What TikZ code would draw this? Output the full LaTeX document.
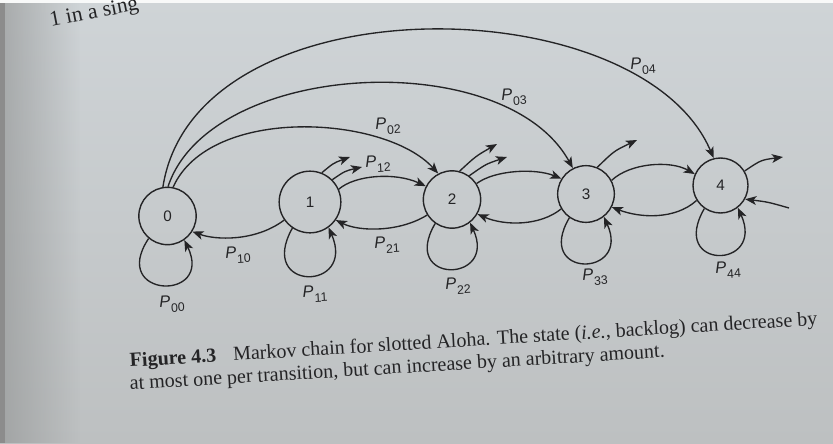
\documentclass[tikz,border=0pt]{standalone}
\usepackage{fontspec}
\setmainfont{Liberation Serif}
\newfontfamily\diagfont{Liberation Sans}
\usetikzlibrary{arrows.meta,fadings}
\definecolor{paperhigh}{RGB}{207,212,215}
\definecolor{paperlow}{RGB}{189,192,193}
\definecolor{paperedge}{RGB}{150,152,152}
\definecolor{ink}{RGB}{36,36,38}
% transition probability P_{ij}
\newcommand{\prob}[1]{{\itshape P}\kern0.6pt\raisebox{-0.6ex}{\fontsize{10.5}{10.5}\selectfont #1}}

\begin{document}
\begin{tikzpicture}[x=0.03cm,y=-0.03cm,
  chainstate/.style={circle,draw=ink,line width=1.2pt,minimum size=1.72cm,inner sep=0pt,
    font=\diagfont\fontsize{13}{13}\selectfont,text=ink},
  trans/.style={draw=ink,line width=1.15pt,-{Stealth[length=9.5pt,width=7.5pt,inset=2.5pt]}},
  problabel/.style={font=\diagfont\fontsize{14}{14}\selectfont,text=ink,inner sep=0pt,rotate=3},
  captionline/.style={font=\fontsize{17.1}{17.1}\selectfont,text=ink,inner sep=0pt,anchor=base west,rotate=3.5},
  runningline/.style={font=\fontsize{18.5}{18.5}\selectfont,text=ink,inner sep=0pt,anchor=base west,rotate=11}]

\useasboundingbox (0,0) rectangle (833,443);
\clip (0,0) rectangle (833,443);

% page
\shade[top color=paperhigh,bottom color=paperlow] (0,0) rectangle (833,443);
\fill[paperedge,path fading=east,opacity=0.7] (0,0) rectangle (80,443);
\fill[black!45] (0,0) rectangle (5,443);
\fill[white!85!paperhigh] (0,0) rectangle (833,2.5);

\node[runningline] (running) at (51,27) {1 in a sing};

% states
\node[chainstate] (n0) at (167.5,216) {0};
\node[chainstate,minimum size=1.85cm] (n1) at (310,202) {1};
\node[chainstate] (n2) at (452,199.5) {2};
\node[chainstate,minimum size=1.7cm] (n3) at (586,194) {3};
\node[chainstate,minimum size=1.65cm] (n4) at (720.5,185.5) {4};

% long jumps from state 0
\draw[trans] (n0.99) .. controls (195,-20) and (640,-15) .. (n4.104);
\draw[trans] (n0.89) .. controls (210,60) and (505,45) .. (n3.117);
\draw[trans] (n0.79) .. controls (210,105) and (385,115) .. (n2.118);

% neighbouring transitions
\draw[trans] (n1.215) .. controls (255,242) and (215,240) .. (n0.-32);
\draw[trans] (n1.24) .. controls (355,175) and (395,172) .. (n2.153);
\draw[trans] (n2.212) .. controls (400,232) and (360,232) .. (n1.-35);
\draw[trans] (n2.33) .. controls (495,170) and (535,168) .. (n3.148);
\draw[trans] (n3.211) .. controls (540,226) and (505,226) .. (n2.-30.5);
\draw[trans] (n3.28) .. controls (630,163) and (670,160) .. (n4.156);
\draw[trans] (n4.212) .. controls (675,220) and (640,218) .. (n3.-27);

% further upward jumps
\coordinate (o1a) at (350,157);
\coordinate (o1b) at (362,167);
\coordinate (o2a) at (497,144);
\coordinate (o2b) at (507,157);
\coordinate (o3a) at (637,140);
\coordinate (o4a) at (783,157);
\coordinate (i4a) at (789,208);
\draw[trans] (n1.68) .. controls (333.5,163) .. (o1a);
\draw[trans] (n1.45) .. controls (345,171) .. (o1b);
\draw[trans] (n2.75) .. controls (476,156) .. (o2a);
\draw[trans] (n2.54) .. controls (486,164) .. (o2b);
\draw[trans] (n3.67.5) .. controls (614,151) .. (o3a);
\draw[trans] (n4.31) .. controls (761,160) .. (o4a);
\draw[trans] (i4a) .. controls (768,202) .. (n4.-29);

% self loops
\draw[trans] (n0.230) .. controls +(-40,60) and +(30,62) .. (n0.305);
\draw[trans] (n1.236) .. controls +(-36,64) and +(28,64) .. (n1.306);
\draw[trans] (n2.235) .. controls +(-36,61) and +(28,61) .. (n2.308);
\draw[trans] (n3.235) .. controls +(-36,61) and +(28,61) .. (n3.308);
\draw[trans] (n4.235) .. controls +(-36,62) and +(28,62) .. (n4.308);

% labels
\node[problabel] (l00) at (172,304) {\prob{00}};
\node[problabel] (l10) at (238,255) {\prob{10}};
\node[problabel] (l11) at (315,294) {\prob{11}};
\node[problabel] (l12) at (378,164) {\prob{12}};
\node[problabel] (l02) at (388,126) {\prob{02}};
\node[problabel] (l03) at (514,97) {\prob{03}};
\node[problabel] (l04) at (643,66) {\prob{04}};
\node[problabel] (l21) at (387,245) {\prob{21}};
\node[problabel] (l22) at (458,286) {\prob{22}};
\node[problabel] (l33) at (595,277) {\prob{33}};
\node[problabel] (l44) at (728,270) {\prob{44}};

% caption
\node[captionline] (cap1) at (130,367) {\textbf{Figure 4.3}\hspace{0.85em}Markov chain for slotted Aloha. The state (\textit{i.e.}, backlog) can decrease by};
\node[captionline] (cap2) at (130,390) {at most one per transition, but can increase by an arbitrary amount.};
\end{tikzpicture}
\end{document}
